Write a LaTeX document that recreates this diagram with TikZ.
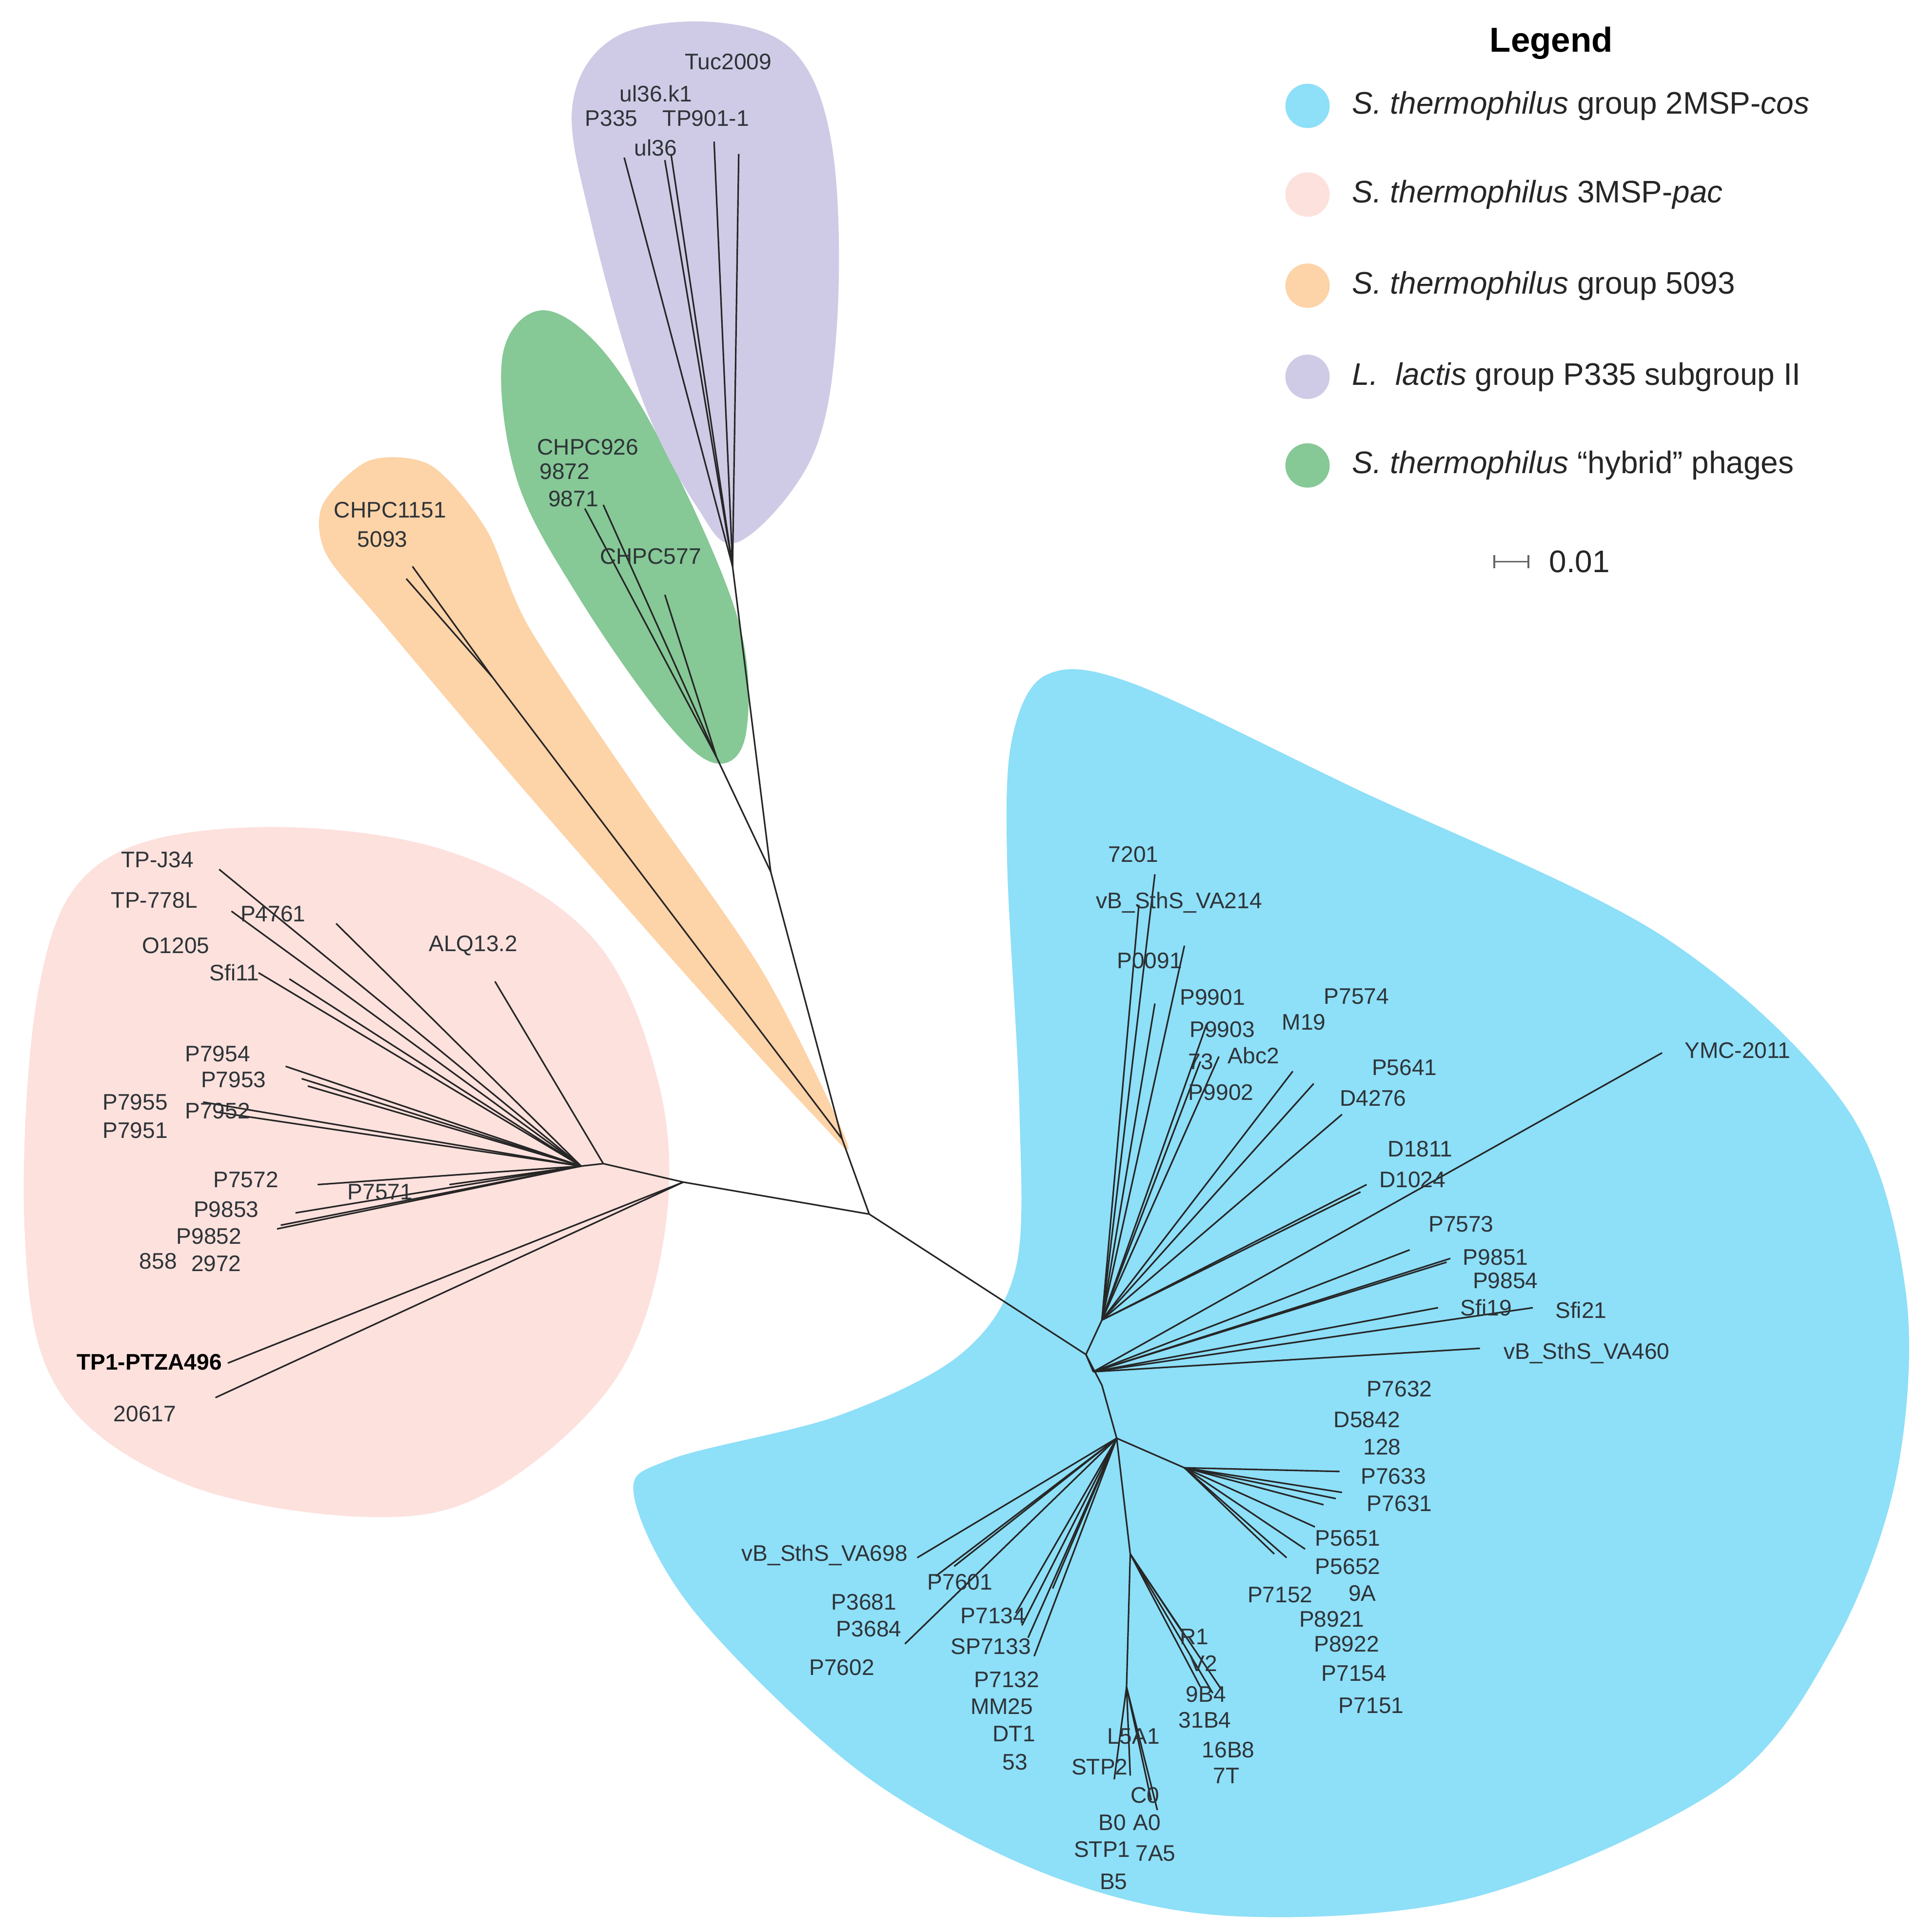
\documentclass[tikz,border=0pt]{standalone}
\usepackage{fontspec}
\setmainfont{Liberation Sans}
\definecolor{cblue}{HTML}{8EDFF8}
\definecolor{cpink}{HTML}{FDE1DD}
\definecolor{corange}{HTML}{FDD3A8}
\definecolor{cpurple}{HTML}{CFCBE6}
\definecolor{cgreen}{HTML}{86C896}
\definecolor{ctext}{HTML}{2E3438}
\begin{document}
\begin{tikzpicture}[x=0.025cm,y=-0.025cm,
  lab/.style={anchor=west,inner sep=0pt,text=ctext,font=\fontsize{13}{15}\selectfont},
  br/.style={draw=black!85,line width=0.9pt},
  leg/.style={anchor=west,inner sep=0pt,font=\fontsize{18}{21}\selectfont,text=black!85}]
\useasboundingbox[fill=white] (0,0) rectangle (1560,1569);
% regions
\fill[cblue] plot[smooth cycle,tension=0.55] coordinates {(822,600) (850,548) (920,555) (1100,640) (1350,760) (1500,900) (1548,1050) (1540,1200) (1490,1335) (1400,1450) (1200,1540) (1000,1556) (850,1522) (700,1440) (565,1310) (515,1215) (545,1185) (680,1150) (780,1100) (825,1030) (828,900) (818,700)};
\fill[cpink] plot[smooth cycle,tension=0.6] coordinates {(80,702) (200,672) (360,690) (480,760) (535,880) (540,1000) (500,1120) (400,1210) (300,1232) (150,1205) (48,1130) (20,1000) (32,800)};
\fill[corange] plot[smooth cycle,tension=0.5] coordinates {(262,410) (300,374) (350,378) (395,430) (430,510) (520,645) (620,790) (688,928) (660,905) (560,795) (420,635) (310,505) (265,450)};
\fill[cgreen] plot[smooth cycle,tension=0.6] coordinates {(408,290) (440,252) (490,285) (545,375) (600,505) (606,595) (582,620) (540,585) (470,485) (420,390)};
\fill[cpurple] plot[smooth cycle,tension=0.6] coordinates {(465,85) (500,30) (580,18) (645,42) (676,120) (680,260) (660,370) (600,440) (565,410) (520,320) (480,180)};
% junctions
\coordinate (C) at (706,986);
\coordinate (o1) at (684,925); \coordinate (u1) at (626,708);
\coordinate (g0) at (582,615); \coordinate (pu) at (595,460);
\coordinate (oj) at (400,550);
\coordinate (pA) at (555,960); \coordinate (pB) at (490,945); \coordinate (pC) at (472,947);
\coordinate (bA) at (882,1100); \coordinate (bUp) at (895,1072); \coordinate (bR) at (888,1114);
\coordinate (bM) at (895,1125); \coordinate (bD) at (907,1168); \coordinate (bE) at (962,1192);
\coordinate (bF) at (918,1262); \coordinate (bG) at (915,1370);
\draw[br] (pA)--(C)--(o1)--(u1)--(g0); \draw[br] (u1)--(pu); \draw[br] (o1)--(oj);
\draw[br] (pA)--(pB)--(pC); \draw[br] (C)--(bA)--(bUp); \draw[br] (bA)--(bR); \draw[br] (bA)--(bM)--(bD)--(bE); \draw[br] (bD)--(bF)--(bG);
% leaves
\foreach \j/\list in {pu/{(507,128),(540,130),(545,125),(580,115),(600,125)},
  g0/{(475,413),(490,410),(540,483)},
  oj/{(335,460),(330,470)},
  pA/{(185,1107),(175,1135)},
  pB/{(402,797)},
  pC/{(178,706),(188,740),(273,750),(210,790),(235,795),(232,866),(245,876),(250,882),(165,895),(175,903),(258,962),(365,962),(240,985),(228,995),(225,998)},
  bUp/{(938,710),(925,735),(962,768),(938,815),(980,832),(990,858),(975,862),(1050,870),(1067,880),(1090,905),(1110,962),(1105,968)},
  bR/{(1350,855),(1145,1015),(1178,1022),(1175,1025),(1168,1062),(1245,1062),(1202,1095)},
  bE/{(1088,1195),(1090,1212),(1085,1217),(1075,1222),(1068,1240),(1060,1258),(1045,1265),(1035,1262)},
  bD/{(745,1265),(775,1272),(760,1280),(735,1335),(825,1310),(835,1330),(840,1345),(830,1320),(855,1290)},
  bG/{(905,1445),(918,1442),(935,1462),(940,1470)},
  bF/{(960,1325),(975,1370),(985,1375),(992,1372)}}
  {\foreach \p in \list {\draw[br] (\j) -- \p;}}
% labels
\foreach \t/\x/\y in {Tuc2009/556/50,ul36.k1/503/76,P335/475/96,TP901-1/538/96,ul36/515/120,
 CHPC926/436/363,9872/438/383,9871/445/405,CHPC577/487/452,CHPC1151/271/414,5093/290/438,
 TP-J34/98/698,TP-778L/90/731,P4761/195/742,O1205/115/768,ALQ13.2/348/768,Sfi11/170/790,
 P7954/150/856,P7953/163/877,P7955/83/895,P7952/150/902,P7951/83/918,P7572/173/958,P7571/282/968,
 P9853/157/982,P9852/143/1004,858/113/1024,2972/155/1026,20617/92/1148,
 7201/900/694,vB\_SthS\_VA214/890/733,P0091/907/780,P9901/958/810,P7574/1075/809,P9903/966/836,
 M19/1041/830,73/965/862,Abc2/997/857,P5641/1114/867,P9902/965/887,D4276/1088/892,YMC-2011/1368/853,
 D1811/1127/933,D1024/1120/958,P7573/1160/994,P9851/1188/1021,P9854/1196/1040,Sfi19/1186/1062,
 Sfi21/1263/1064,vB\_SthS\_VA460/1221/1099,P7632/1110/1128,D5842/1083/1153,128/1107/1175,
 P7633/1105/1199,P7631/1110/1221,P5651/1068/1249,P5652/1068/1272,P7152/1013/1295,9A/1095/1294,
 P8921/1055/1315,P8922/1067/1335,P7154/1073/1359,P7151/1087/1385,vB\_SthS\_VA698/602/1263,
 P7601/753/1285,P3681/675/1301,P7134/780/1312,P3684/679/1323,SP7133/772/1337,P7602/657/1354,
 P7132/791/1364,MM25/788/1386,DT1/806/1408,53/814/1431,R1/958/1329,V2/966/1351,9B4/963/1376,
 31B4/957/1397,16B8/976/1421,7T/985/1442,L5A1/899/1410,STP2/870/1435,C0/918/1458,B0/892/1480,
 A0/920/1480,STP1/872/1502,7A5/922/1505,B5/893/1528}
 {\node[lab] at (\x,\y) {\t};}
\node[lab,font=\fontsize{13}{15}\selectfont\bfseries,text=black] (tp1) at (62,1106) {TP1-PTZA496};
% legend
\node[font=\fontsize{20}{23}\selectfont\bfseries] (legt) at (1260,35) {Legend};
\fill[cblue] (1062,86) circle (18); \node[leg] (l1) at (1098,86) {\textit{S. thermophilus} group 2MSP-\textit{cos}};
\fill[cpink] (1062,158) circle (18); \node[leg] (l2) at (1098,158) {\textit{S. thermophilus} 3MSP-\textit{pac}};
\fill[corange] (1062,232) circle (18); \node[leg] (l3) at (1098,232) {\textit{S. thermophilus} group 5093};
\fill[cpurple] (1062,306) circle (18); \node[leg] (l4) at (1098,306) {\textit{L.\ \ lactis} group P335 subgroup II};
\fill[cgreen] (1062,378) circle (18); \node[leg] (l5) at (1098,378) {\textit{S. thermophilus} ``hybrid'' phages};
\coordinate (s1) at (1213,456); \coordinate (s2) at (1242,456);
\draw[black!60,line width=0.9pt,|-|] (s1)--(s2);
\node[leg] (sc) at (1258,456) {0.01};
\end{tikzpicture}
\end{document}
